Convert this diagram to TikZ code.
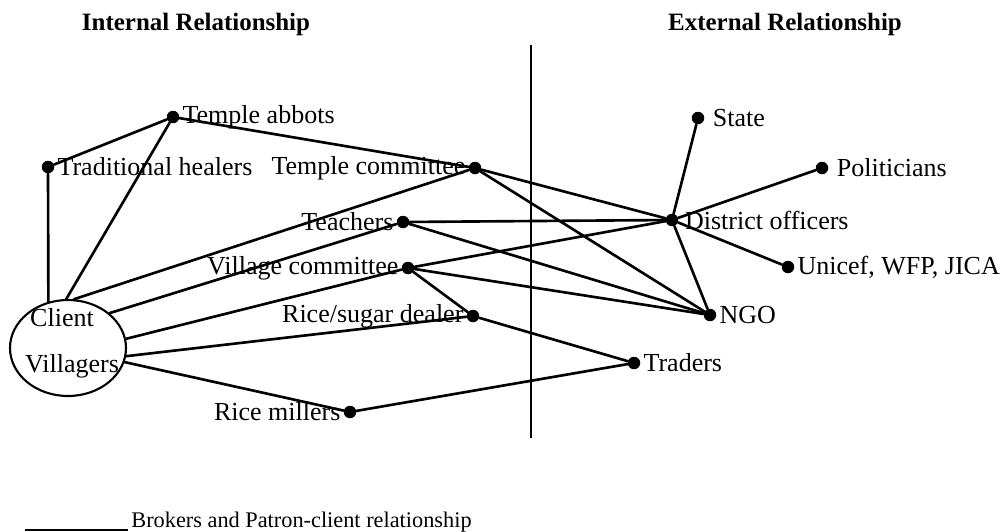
\documentclass[tikz,border=0pt]{standalone}
\usepackage{fontspec}
\setmainfont{Liberation Serif}
\usepackage{tikz}
\usetikzlibrary{shapes, positioning, calc, shapes.geometric}

\begin{document}
\begin{tikzpicture}[font=\fontsize{14.8}{17}\selectfont,
    actor/.style={circle, fill=black, inner sep=0pt, minimum size=0.25cm},
    tag/.style={inner sep=1.5pt},
    tie/.style={line width=1.5pt, line cap=round},
    heading/.style={font=\fontsize{14.2}{17}\selectfont\bfseries, anchor=base},
    clientnode/.style={ellipse, draw, line width=1.2pt, minimum width=2.32cm, minimum height=1.92cm, inner sep=0pt}]

    \useasboundingbox (0,0) rectangle (20.06,-10.62);

    % Headings and divider
    \node[heading] (inttitle) at (3.92,-0.60) {Internal Relationship};
    \node[heading] (exttitle) at (15.70,-0.60) {External Relationship};
    \coordinate (divtop) at (10.62,-0.90);
    \coordinate (divbot) at (10.62,-8.76);
    \draw[line width=1pt] (divtop) -- (divbot);

    % Client
    \node[clientnode] (villagers) at (1.36,-6.96) {};
    \node[anchor=base, inner sep=0pt] (client) at (1.24,-6.52) {Client};
    \node[anchor=base, inner sep=0pt] (vtext) at (1.44,-7.44) {Villagers};

    % Internal actors
    \node[actor, label={[tag]right:Temple abbots}] (abbots) at (3.46,-2.34) {};
    \node[actor, label={[tag]right:Traditional healers}] (healers) at (0.96,-3.34) {};
    \node[actor, label={[tag]left:Temple committee}] (tcommittee) at (9.50,-3.36) {};
    \node[actor, label={[tag]left:Teachers}] (teachers) at (8.06,-4.44) {};
    \node[actor, label={[tag]left:Village committee}] (vcommittee) at (8.16,-5.36) {};
    \node[actor, label={[tag]left:Rice/sugar dealer}] (dealer) at (9.46,-6.32) {};
    \node[actor, label={[tag]left:Rice millers}] (millers) at (7.00,-8.24) {};

    % External actors
    \node[actor, label={[tag, label distance=3pt]right:State}] (state) at (13.96,-2.36) {};
    \node[actor, label={[tag, label distance=3pt]right:Politicians}] (politicians) at (16.44,-3.36) {};
    \node[actor, label={[tag, label distance=2pt]right:District officers}] (officers) at (13.44,-4.40) {};
    \node[actor, label={[tag]right:{Unicef, WFP, JICA}}] (unicef) at (15.76,-5.34) {};
    \node[actor, label={[tag]right:NGO}] (ngo) at (14.20,-6.30) {};
    \node[actor, label={[tag]right:Traders}] (traders) at (12.68,-7.26) {};

    % Links to the client
    \draw[tie] (abbots) -- (villagers.92);
    \draw[tie] (healers) -- (villagers.113);
    \draw[tie] (tcommittee) -- (villagers.83);
    \draw[tie] (teachers) -- (villagers.40);
    \draw[tie] (vcommittee) -- (villagers.9);
    \draw[tie] (dealer) -- (villagers.-8);
    \draw[tie] (millers) -- (villagers.-14);

    % Links between brokers
    \draw[tie] (abbots) -- (healers);
    \draw[tie] (abbots) -- (tcommittee);
    \draw[tie] (tcommittee) -- (officers);
    \draw[tie] (tcommittee) -- (ngo);
    \draw[tie] (teachers) -- (officers);
    \draw[tie] (teachers) -- (ngo);
    \draw[tie] (vcommittee) -- (officers);
    \draw[tie] (vcommittee) -- (ngo);
    \draw[tie] (vcommittee) -- (dealer);
    \draw[tie] (dealer) -- (traders);
    \draw[tie] (millers) -- (traders);
    \draw[tie] (officers) -- (state);
    \draw[tie] (officers) -- (politicians);
    \draw[tie] (officers) -- (unicef);
    \draw[tie] (officers) -- (ngo);

    % Legend
    \node[font=\fontsize{12.7}{15}\selectfont, anchor=base west, inner sep=2pt] (legtext) at (2.55,-10.54) {Brokers and Patron-client relationship};
    \coordinate (legstart) at (0.50,-10.60);
    \draw[line width=0.6pt] (legstart) -- (legstart -| legtext.west);
\end{tikzpicture}
\end{document}
